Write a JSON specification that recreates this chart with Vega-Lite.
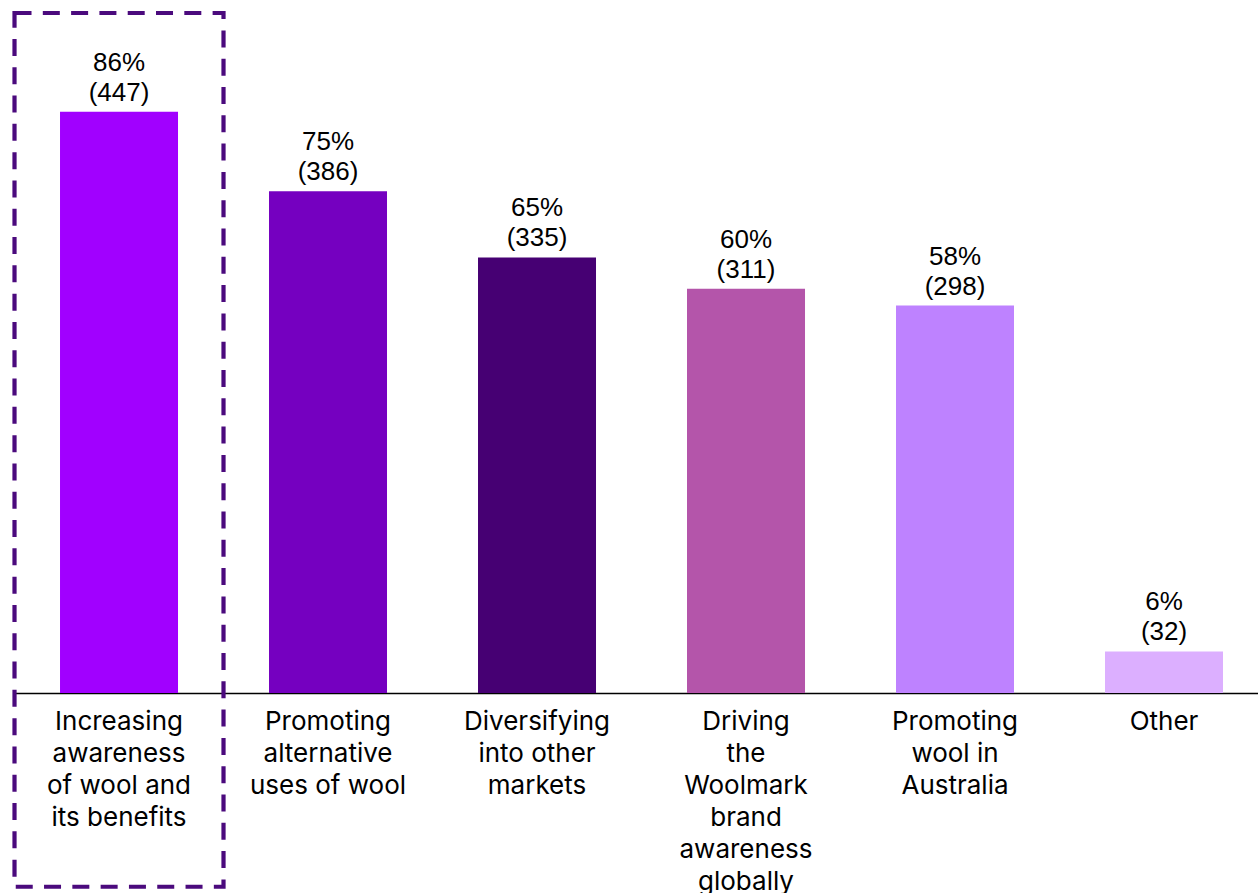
{
  "$schema": "https://vega.github.io/schema/vega-lite/v6.json",
  "autosize": "none",
  "width": 1244,
  "height": 693,
  "padding": {"left": 14, "top": 0, "right": 0, "bottom": 200},
  "background": "white",
  "config": {"view": {"stroke": null}},
  "data": {
    "values": [
      {"cat": "Increasing|awareness|of wool and|its benefits", "n": 447, "label": "86%\n(447)", "highlight": true},
      {"cat": "Promoting|alternative|uses of wool", "n": 386, "label": "75%\n(386)", "highlight": false},
      {"cat": "Diversifying|into other|markets", "n": 335, "label": "65%\n(335)", "highlight": false},
      {"cat": "Driving|the|Woolmark|brand|awareness|globally", "n": 311, "label": "60%\n(311)", "highlight": false},
      {"cat": "Promoting|wool in|Australia", "n": 298, "label": "58%\n(298)", "highlight": false},
      {"cat": "Other", "n": 32, "label": "6%\n(32)", "highlight": false}
    ]
  },
  "encoding": {
    "x": {
      "field": "cat",
      "type": "nominal",
      "sort": null,
      "scale": {"paddingInner": 0.4354, "paddingOuter": 0.1938, "align": 0.568},
      "axis": {
        "title": null,
        "labelAngle": 0,
        "ticks": false,
        "tickSize": 0,
        "labelPadding": 36,
        "labelBaseline": "alphabetic",
        "labelExpr": "split(datum.label, '|')",
        "labelLineHeight": 32,
        "labelFont": "Inter",
        "labelFontSize": 26,
        "labelColor": "#000000",
        "labelLimit": 0,
        "domainColor": "#000000",
        "domainWidth": 1.5
      }
    }
  },
  "layer": [
    {
      "mark": {"type": "bar"},
      "encoding": {
        "y": {
          "field": "n",
          "type": "quantitative",
          "scale": {"domain": [0, 533], "nice": false, "zero": true},
          "axis": null
        },
        "color": {
          "field": "cat",
          "type": "nominal",
          "sort": null,
          "scale": {"range": ["#A100FF", "#7500C0", "#460073", "#B455AA", "#BE82FF", "#DCAFFF"]},
          "legend": null
        }
      }
    },
    {
      "mark": {"type": "text", "baseline": "alphabetic", "lineBreak": "\n", "lineHeight": 30, "dy": -41, "font": "Liberation Sans", "fontSize": 26, "color": "#000000"},
      "encoding": {
        "y": {"field": "n", "type": "quantitative"},
        "text": {"field": "label"}
      }
    },
    {
      "transform": [{"filter": "datum.highlight"}],
      "mark": {"type": "bar", "filled": false, "stroke": "#4b0a7d", "strokeWidth": 4.2, "strokeDash": [17, 11.3], "width": {"band": 1.7712}, "clip": false},
      "encoding": {
        "y": {"datum": 523, "type": "quantitative"},
        "y2": {"datum": -149}
      }
    }
  ]
}
